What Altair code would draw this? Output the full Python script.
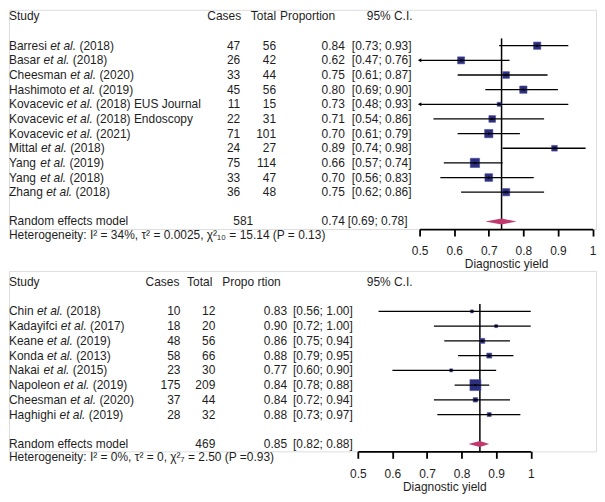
import altair as alt
import pandas as pd

# ---------------- data ----------------
top_study = ["Barresi et al. (2018)", "Basar et al. (2018)", "Cheesman et al. (2020)",
             "Hashimoto et al. (2019)", "Kovacevic et al. (2018) EUS Journal",
             "Kovacevic et al. (2018) Endoscopy", "Kovacevic et al. (2021)",
             "Mittal et al. (2018)", "Yang et al. (2019)", "Yang et al. (2018)",
             "Zhang et al. (2018)"]
top_cases = [47, 26, 33, 45, 11, 22, 71, 24, 75, 33, 36]
top_total = [56, 42, 44, 56, 15, 31, 101, 27, 114, 47, 48]
top_prop = [0.84, 0.62, 0.75, 0.80, 0.73, 0.71, 0.70, 0.89, 0.66, 0.70, 0.75]
top_lo = [0.73, 0.47, 0.61, 0.69, 0.48, 0.54, 0.61, 0.74, 0.57, 0.56, 0.62]
top_hi = [0.93, 0.76, 0.87, 0.90, 0.93, 0.86, 0.79, 0.98, 0.74, 0.83, 0.86]
top_weight = [9.5, 8.8, 8.0, 9.5, 2.9, 8.0, 12.3, 5.8, 15.4, 10.6, 9.5]
top_pooled = [0.737, 0.69, 0.78]
top_pooled_total = 581
top_het = "Heterogeneity: I² = 34%, τ² = 0.0025, χ²₁₀ = 15.14 (P = 0.13)"
top_headers = ["Study", "Cases", "Total", "Proportion", "95% C.I."]

bot_study = ["Chin et al. (2018)", "Kadayifci et al. (2017)", "Keane et al. (2019)",
             "Konda et al. (2013)", "Nakai et al. (2015)", "Napoleon et al. (2019)",
             "Cheesman et al. (2020)", "Haghighi et al. (2019)"]
bot_cases = [10, 18, 48, 58, 23, 175, 37, 28]
bot_total = [12, 20, 56, 66, 30, 209, 44, 32]
bot_prop = [0.83, 0.90, 0.86, 0.88, 0.77, 0.84, 0.84, 0.88]
bot_lo = [0.56, 0.72, 0.75, 0.79, 0.60, 0.78, 0.72, 0.73]
bot_hi = [1.00, 1.00, 0.94, 0.95, 0.90, 0.88, 0.94, 0.97]
bot_weight = [3.8, 3.8, 10.7, 10.7, 3.8, 51.7, 8.5, 6.8]
bot_pooled = [0.853, 0.82, 0.88]
bot_pooled_total = 469
bot_het = "Heterogeneity: I² = 0%, τ² = 0, χ²₇ = 2.50 (P =0.93)"
bot_headers = ["Study", "Cases", "Total", "Propo rtion", "95% C.I."]

axis_ticks = [0.5, 0.6, 0.7, 0.8, 0.9, 1.0]
axis_title = "Diagnostic yield"

# ---------------- style ----------------
FONT = "Liberation Sans"
FS = 12
TXT = "#1e1e1e"
NAVY = "#2c2e80"
DIAMOND = "#c2386e"
W = 589

# Arial / Liberation Sans advance widths (1/1000 em) used to place the italic "et al."
_AW = {" ": 278, ".": 278, "B": 667, "C": 722, "H": 722, "K": 667, "M": 833, "N": 722,
       "Y": 667, "Z": 611, "a": 556, "c": 500, "d": 556, "e": 556, "f": 278, "g": 556,
       "h": 556, "i": 222, "l": 222, "m": 833, "n": 556, "o": 556, "p": 556, "r": 333,
       "s": 500, "t": 278, "v": 500, "y": 500}


def tw(s):
    return sum(_AW.get(ch, 556) for ch in s) * FS / 1000.0


def split_names(names):
    pre, mid, suf, x2, x3 = [], [], [], [], []
    for nm in names:
        a, b = nm.split(" et al. ", 1)
        pre.append(a)
        mid.append("et al.")
        suf.append(b)
        x2.append(tw(a + " "))
        x3.append(tw(a + " et al. "))
    return pre, mid, suf, x2, x3


def panel(study, cases, total, prop, lo, hi, weight, pooled, pooled_total, het,
          headers, pos, xrange, yrange, height, size_max):
    n = len(study)
    rr, hr = n + 3, n + 4
    df = pd.DataFrame(dict(row=list(range(2, 2 + n)), study=study,
                           cases=[str(c) for c in cases], total=[str(t) for t in total],
                           prop=prop, lo=lo, hi=hi, w=weight))
    df["lo_c"] = df["lo"].clip(lower=0.5)
    df["prop_txt"] = [f"{v:.2f}" for v in prop]
    df["ci_txt"] = [f"[{a:.2f}; {b:.2f}]" for a, b in zip(lo, hi)]
    pre, mid, suf, x2, x3 = split_names(study)
    df["pre"], df["mid"], df["suf"], df["x2"], df["x3"] = pre, mid, suf, x2, x3

    xs = alt.Scale(domain=[0.5, 1.0], range=xrange, nice=False, zero=False)
    ys = alt.Scale(domain=[0, hr], range=yrange, nice=False, zero=False)
    ax = alt.Axis(values=axis_ticks, format=".1~f", title=axis_title, grid=False,
                  domainColor="black", domainWidth=1.8, tickColor="black", tickWidth=1.8,
                  tickSize=7, labelFont=FONT, labelFontSize=FS, labelColor=TXT,
                  labelPadding=10, titleFont=FONT, titleFontSize=FS, titleFontWeight="normal",
                  titleColor=TXT, titlePadding=2, labelFlush=False)
    Y = alt.Y("row:Q", scale=ys, axis=None)

    def X(field):
        return alt.X(field, type="quantitative", scale=xs, axis=ax)

    def text(data, field, x, align, style="normal"):
        return alt.Chart(data).mark_text(align=align, baseline="middle", font=FONT,
                                         fontSize=FS, color=TXT, fontStyle=style).encode(
            x=alt.value(x) if not isinstance(x, str) else alt.X(x, type="quantitative", scale=None, axis=None),
            y=Y, text=alt.Text(f"{field}:N"))

    layers = []
    # vertical reference line at pooled estimate
    layers.append(alt.Chart(pd.DataFrame({"v": [pooled[0]]})).mark_rule(
        color="black", strokeWidth=1.5).encode(
        x=X("v"), y=alt.Y(datum=1.5, type="quantitative", scale=ys, axis=None),
        y2=alt.value(height)))
    # squares
    layers.append(alt.Chart(df).mark_point(shape="square", filled=True, opacity=1,
                                           color=NAVY, stroke="#4a4c9a", strokeWidth=0.6).encode(
        x=X("prop"), y=Y,
        size=alt.Size("w:Q", scale=alt.Scale(domain=[0, 100], range=[0, size_max]), legend=None)))
    # CI lines
    layers.append(alt.Chart(df).mark_rule(color="black", strokeWidth=1.3).encode(
        x=X("lo_c"), x2="hi:Q", y=Y))
    # centre dot
    layers.append(alt.Chart(df).mark_point(shape="square", filled=True, opacity=1,
                                           color="black", size=4).encode(x=X("prop"), y=Y))
    # arrows for truncated CIs
    arr = df[df["lo"] < 0.5]
    if len(arr):
        layers.append(alt.Chart(arr).mark_point(shape="triangle-left", filled=True, opacity=1,
                                                color="black", size=16).encode(x=X("lo_c"), y=Y))
    # pooled diamond
    h = 0.2
    dd = pd.DataFrame({"x": [pooled[1], pooled[0], pooled[2]],
                       "y": [rr, rr - h, rr], "y2": [rr, rr + h, rr]})
    layers.append(alt.Chart(dd).mark_area(color=DIAMOND, opacity=1, orient="vertical").encode(
        x=X("x"), y=alt.Y("y:Q", scale=ys, axis=None), y2="y2:Q"))

    # study names with italic "et al."
    layers.append(text(df, "pre", 0, "left"))
    layers.append(text(df, "mid", "x2", "left", "italic"))
    layers.append(text(df, "suf", "x3", "left"))
    # other columns
    layers.append(text(df, "cases", pos["cases"], "right"))
    layers.append(text(df, "total", pos["total"], "right"))
    layers.append(text(df, "prop_txt", pos["prop"], "right"))
    layers.append(text(df, "ci_txt", pos["ci"], "left"))
    hd = pd.DataFrame({"row": [0] * 5, "t": headers})
    layers.append(text(hd.iloc[[0]], "t", 0, "left"))
    layers.append(text(hd.iloc[[1]], "t", pos["h_cases"], "right"))
    layers.append(text(hd.iloc[[2]], "t", pos["h_total"], "right"))
    layers.append(text(hd.iloc[[3]], "t", pos["h_prop"], "left"))
    layers.append(text(hd.iloc[[4]], "t", pos["h_ci"], "left"))
    pr = pd.DataFrame({"row": [rr], "a": ["Random effects model"], "b": [str(pooled_total)],
                       "c": [f"{pooled[0]:.2f}"], "d": [f"[{pooled[1]:.2f}; {pooled[2]:.2f}]"]})
    layers.append(text(pr, "a", 0, "left"))
    layers.append(text(pr, "b", pos["p_total"], "right"))
    layers.append(text(pr, "c", pos["prop"], "right"))
    layers.append(text(pr, "d", pos["p_ci"], "left"))
    layers.append(text(pd.DataFrame({"row": [hr - 0.1], "t": [het]}), "t", 0, "left"))

    return alt.layer(*layers).properties(width=W, height=height)


top = panel(top_study, top_cases, top_total, top_prop, top_lo, top_hi, top_weight,
            top_pooled, top_pooled_total, top_het, top_headers,
            dict(cases=232, total=268, prop=337, ci=344, h_cases=233, h_total=268,
                 h_prop=272, h_ci=359, p_total=245, p_ci=340),
            xrange=[412, 585.5], yrange=[6.6, 227.1], height=220, size_max=560)

bot = panel(bot_study, bot_cases, bot_total, bot_prop, bot_lo, bot_hi, bot_weight,
            bot_pooled, bot_pooled_total, bot_het, bot_headers,
            dict(cases=172, total=207, prop=279, ci=285, h_cases=171, h_total=204,
                 h_prop=214, h_ci=359, p_total=207, p_ci=285),
            xrange=[350, 523.5], yrange=[11, 188.5], height=181, size_max=234)

chart = alt.vconcat(top, bot, spacing=42, bounds="flush").resolve_scale(
    size="independent").properties(padding=0).configure_view(
    stroke=None).configure(background="white")

chart.save("out.html", embed_options={"renderer": "svg", "actions": False})
